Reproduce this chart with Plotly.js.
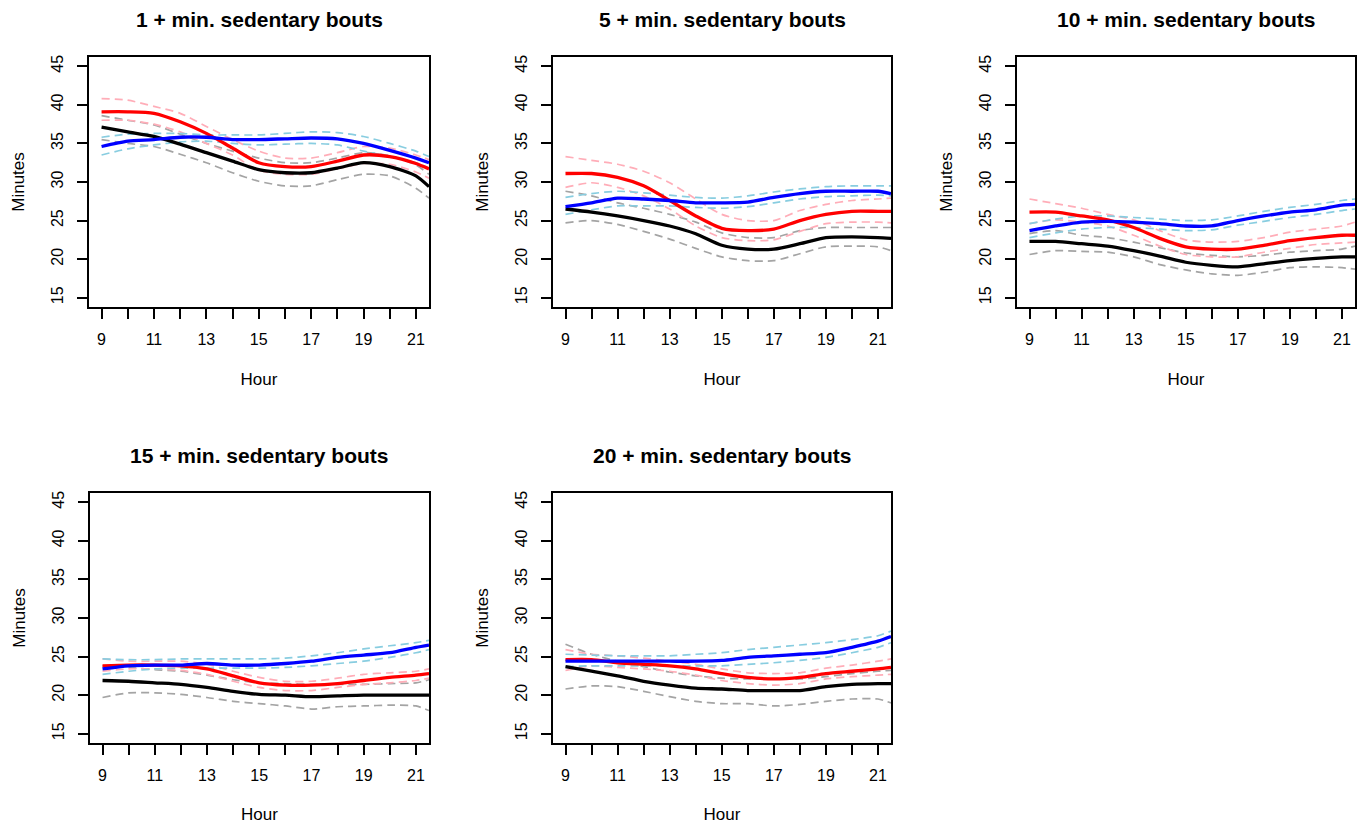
<!DOCTYPE html>
<html>
<head>
<meta charset="utf-8">
<script src="https://cdn.plot.ly/plotly-3.0.1.min.js"></script>
<style>html,body{margin:0;padding:0;background:#fff;}#chart{width:1364px;height:824px;}</style>
</head>
<body>
<div id="chart"></div>
<script>
// ---- data ----
const hours = [9,10,11,12,13,14,15,16,17,18,19,20,21,21.5];
const xTickVals = [9,10,11,12,13,14,15,16,17,18,19,20,21];
const xTickText = ['9','','11','','13','','15','','17','','19','','21'];
const yTickVals = [15,20,25,30,35,40,45];
const panelTitles = ['1 + min. sedentary bouts','5 + min. sedentary bouts','10 + min. sedentary bouts','15 + min. sedentary bouts','20 + min. sedentary bouts'];

// Panel 1
const p1Black   = [37.1,36.5,35.9,34.9,33.8,32.7,31.6,31.2,31.2,31.8,32.5,32.0,30.8,29.4];
const p1BlackHi = [38.6,38.0,37.4,36.2,35.0,34.0,33.1,32.5,32.5,33.1,33.8,33.4,32.2,31.0];
const p1BlackLo = [35.5,35.0,34.6,33.6,32.5,31.2,30.1,29.5,29.5,30.3,31.0,30.8,29.2,27.9];
const p1Red     = [39.1,39.1,38.9,37.8,36.3,34.4,32.5,32.0,32.0,32.7,33.5,33.3,32.4,31.7];
const p1RedHi   = [40.8,40.6,39.8,38.9,37.2,35.5,34.0,33.1,33.1,33.8,34.6,34.4,33.5,32.9];
const p1RedLo   = [38.0,38.0,37.5,36.5,35.0,33.5,31.5,31.0,31.0,31.7,32.4,32.3,31.3,30.5];
const p1Blue    = [34.6,35.3,35.5,35.8,35.8,35.5,35.5,35.6,35.7,35.6,35.0,34.1,33.1,32.5];
const p1BlueHi  = [35.8,36.2,36.3,36.3,36.1,36.1,36.1,36.3,36.5,36.4,35.9,35.0,34.0,33.3];
const p1BlueLo  = [33.5,34.3,34.8,35.2,35.3,35.0,34.8,34.9,35.0,34.8,34.0,33.3,32.5,31.8];

// Panel 2
const p2Black   = [26.5,26.1,25.6,25.0,24.3,23.3,21.8,21.3,21.3,22.0,22.8,22.9,22.8,22.7];
const p2BlackHi = [28.8,28.2,27.3,26.6,25.8,24.8,23.4,22.8,22.8,23.7,24.1,24.1,24.1,24.1];
const p2BlackLo = [24.7,25.0,24.5,23.6,22.6,21.4,20.3,19.8,19.8,20.7,21.6,21.7,21.6,21.1];
const p2Red     = [31.1,31.1,30.6,29.5,27.6,25.6,24.0,23.7,23.9,25.0,25.8,26.2,26.2,26.2];
const p2RedHi   = [33.3,32.8,32.3,31.4,29.9,27.8,25.8,25.0,25.0,26.3,27.1,27.6,27.8,27.9];
const p2RedLo   = [29.3,29.9,29.3,28.2,26.5,24.3,22.8,22.4,22.5,23.6,24.6,24.8,24.8,24.7];
const p2Blue    = [26.8,27.3,27.9,27.8,27.6,27.3,27.3,27.4,28.0,28.5,28.8,28.8,28.8,28.5];
const p2BlueHi  = [28.0,28.5,28.8,28.6,28.3,28.0,27.9,28.2,28.7,29.1,29.4,29.5,29.5,29.5];
const p2BlueLo  = [25.8,26.4,26.9,26.9,26.9,26.7,26.6,26.8,27.3,27.8,28.1,28.2,28.3,28.2];

// Panel 3
const p3Black   = [22.3,22.3,22.0,21.7,21.1,20.4,19.6,19.2,19.0,19.4,19.8,20.1,20.3,20.3];
const p3BlackHi = [23.3,23.7,23.1,22.8,22.2,21.5,20.8,20.5,20.3,20.5,20.9,21.1,21.3,21.7];
const p3BlackLo = [20.6,21.1,21.0,20.9,20.3,19.3,18.6,18.1,17.9,18.3,18.9,19.0,18.9,18.7];
const p3Red     = [26.1,26.1,25.6,25.1,24.1,22.7,21.6,21.3,21.3,21.8,22.4,22.8,23.1,23.1];
const p3RedHi   = [27.8,27.2,26.6,25.8,25.1,23.7,22.5,22.2,22.3,22.8,23.5,23.9,24.3,24.8];
const p3RedLo   = [24.6,25.1,24.8,24.3,23.1,21.7,20.6,20.3,20.3,20.9,21.4,21.9,22.1,22.2];
const p3Blue    = [23.7,24.3,24.8,24.9,24.8,24.6,24.3,24.3,25.0,25.6,26.1,26.4,27.0,27.1];
const p3BlueHi  = [24.6,25.2,25.6,25.6,25.4,25.2,25.0,25.1,25.6,26.2,26.7,27.1,27.6,27.8];
const p3BlueLo  = [22.8,23.4,23.9,24.1,24.1,23.9,23.7,23.8,24.4,24.9,25.4,25.8,26.3,26.5];

// Panel 4
const p4Black   = [21.9,21.8,21.6,21.4,21.0,20.5,20.1,20.0,19.8,19.9,20.0,20.0,20.0,20.0];
const p4BlackHi = [23.8,23.6,23.3,23.1,22.6,22.0,21.6,21.5,21.4,21.4,21.4,21.5,21.6,22.0];
const p4BlackLo = [19.7,20.3,20.3,20.1,19.7,19.2,18.9,18.6,18.2,18.5,18.6,18.7,18.6,18.0];
const p4Red     = [23.8,23.9,23.9,23.8,23.4,22.5,21.6,21.3,21.3,21.5,21.9,22.3,22.6,22.8];
const p4RedHi   = [24.7,24.4,24.4,24.4,24.0,23.1,22.3,21.8,21.8,22.2,22.7,22.9,23.1,23.4];
const p4RedLo   = [23.1,23.4,23.4,23.2,22.7,21.8,21.0,20.6,20.6,21.0,21.4,21.6,21.9,22.2];
const p4Blue    = [23.4,23.8,23.9,23.9,24.1,23.9,23.9,24.1,24.4,24.9,25.2,25.5,26.2,26.5];
const p4BlueHi  = [24.7,24.6,24.6,24.7,24.7,24.7,24.7,24.8,25.1,25.5,26.0,26.4,26.8,27.1];
const p4BlueLo  = [22.7,23.1,23.4,23.5,23.5,23.5,23.5,23.6,23.8,24.1,24.4,24.9,25.5,25.9];

// Panel 5
const p5Black   = [23.7,23.1,22.5,21.8,21.3,20.9,20.8,20.6,20.6,20.6,21.1,21.4,21.5,21.5];
const p5BlackHi = [26.6,25.3,24.4,23.7,23.0,22.5,22.2,22.1,22.1,22.1,22.4,22.8,23.1,23.2];
const p5BlackLo = [20.8,21.2,21.1,20.5,19.8,19.2,18.9,18.9,18.6,18.8,19.2,19.5,19.5,19.0];
const p5Red     = [24.6,24.6,24.2,24.0,23.8,23.4,22.8,22.3,22.1,22.3,22.8,23.1,23.4,23.6];
const p5RedHi   = [25.9,25.3,25.1,24.8,24.4,24.0,23.4,22.9,22.8,22.9,23.5,23.9,24.4,24.7];
const p5RedLo   = [23.2,23.8,23.6,23.4,23.1,22.6,21.9,21.5,21.3,21.5,22.1,22.4,22.6,22.7];
const p5Blue    = [24.4,24.4,24.4,24.4,24.4,24.4,24.5,24.9,25.1,25.3,25.5,26.2,27.0,27.6];
const p5BlueHi  = [25.3,25.2,25.1,25.1,25.1,25.3,25.5,25.9,26.2,26.5,26.8,27.2,27.7,28.3];
const p5BlueLo  = [23.7,23.8,23.8,23.8,23.8,23.8,23.8,24.0,24.2,24.5,24.9,25.5,26.2,26.8];

const panels = [
  {black:p1Black, blackHi:p1BlackHi, blackLo:p1BlackLo, red:p1Red, redHi:p1RedHi, redLo:p1RedLo, blue:p1Blue, blueHi:p1BlueHi, blueLo:p1BlueLo},
  {black:p2Black, blackHi:p2BlackHi, blackLo:p2BlackLo, red:p2Red, redHi:p2RedHi, redLo:p2RedLo, blue:p2Blue, blueHi:p2BlueHi, blueLo:p2BlueLo},
  {black:p3Black, blackHi:p3BlackHi, blackLo:p3BlackLo, red:p3Red, redHi:p3RedHi, redLo:p3RedLo, blue:p3Blue, blueHi:p3BlueHi, blueLo:p3BlueLo},
  {black:p4Black, blackHi:p4BlackHi, blackLo:p4BlackLo, red:p4Red, redHi:p4RedHi, redLo:p4RedLo, blue:p4Blue, blueHi:p4BlueHi, blueLo:p4BlueLo},
  {black:p5Black, blackHi:p5BlackHi, blackLo:p5BlackLo, red:p5Red, redHi:p5RedHi, redLo:p5RedLo, blue:p5Blue, blueHi:p5BlueHi, blueLo:p5BlueLo}
];

// ---- layout geometry (pixels) ----
const W = 1364, H = 824;
const boxes = [
  {l:89,  r:429,  t:57,  b:307},
  {l:553, r:891,  t:57,  b:307},
  {l:1017,r:1355, t:57,  b:307},
  {l:90,  r:429,  t:493, b:743},
  {l:553, r:891,  t:493, b:743}
];

const FONT = 'Liberation Sans, Arial, sans-serif';
const traces = [];
const layout = {
  width: W, height: H,
  margin: {l:0, r:0, t:0, b:0},
  paper_bgcolor: '#fff', plot_bgcolor: '#fff',
  showlegend: false,
  font: {family: FONT, color: '#000', size: 16},
  annotations: []
};

const dashC = {black:'#a4a4a4', red:'#ffadb8', blue:'#88cde0'};
const solidC = {black:'#000000', red:'#ff0000', blue:'#0000ff'};

panels.forEach((p, i) => {
  const n = i + 1;
  const xa = 'x' + (n === 1 ? '' : n), ya = 'y' + (n === 1 ? '' : n);
  const bx = boxes[i];
  const addLine = (y, color, width, dash) => traces.push({
    type:'scatter', mode:'lines', x:hours, y:y, xaxis:xa, yaxis:ya,
    line:{color:color, width:width, dash:dash, shape:'spline', smoothing:0.7},
    hoverinfo:'skip'
  });
  ['black','red','blue'].forEach(k => {
    addLine(p[k+'Hi'], dashC[k], 1.7, '8px,5px');
    addLine(p[k+'Lo'], dashC[k], 1.7, '8px,5px');
  });
  addLine(p.black, solidC.black, 3.3, 'solid');
  addLine(p.red, solidC.red, 3.3, 'solid');
  addLine(p.blue, solidC.blue, 3.3, 'solid');

  const xKey = 'xaxis' + (n === 1 ? '' : n), yKey = 'yaxis' + (n === 1 ? '' : n);
  layout[xKey] = {
    domain:[bx.l/W, bx.r/W], anchor: ya, range:[8.52, 21.5],
    tickmode:'array', tickvals:xTickVals, ticktext:xTickText,
    ticks:'outside', ticklen:10, tickwidth:2, tickcolor:'#000',
    ticklabelstandoff: 7,
    showline:true, mirror:true, linecolor:'#000', linewidth:2,
    showgrid:false, zeroline:false, fixedrange:true,
    tickfont:{size:16, family:FONT, color:'#000'},
    title:{text:'Hour', font:{size:17, family:FONT, color:'#000'}, standoff:26}
  };
  layout[yKey] = {
    domain:[1 - bx.b/H, 1 - bx.t/H], anchor: xa, range:[13.8, 46.2],
    tickmode:'array', tickvals:yTickVals,
    ticks:'outside', ticklen:10, tickwidth:2, tickcolor:'#000',
    tickangle:-90, ticklabelstandoff: 8,
    showline:true, mirror:true, linecolor:'#000', linewidth:2,
    showgrid:false, zeroline:false, fixedrange:true,
    tickfont:{size:16, family:FONT, color:'#000'},
    title:{text:'Minutes', font:{size:17, family:FONT, color:'#000'}, standoff:20}
  };
  layout.annotations.push({
    xref:'paper', yref:'paper', x:(bx.l + bx.r)/2/W, y:1 - (bx.t - 38)/H,
    xanchor:'center', yanchor:'middle', showarrow:false,
    text:'<b>' + panelTitles[i] + '</b>', font:{size:21, family:FONT, color:'#000'}
  });
});

Plotly.newPlot('chart', traces, layout, {displayModeBar:false, staticPlot:true});
</script>
</body>
</html>
